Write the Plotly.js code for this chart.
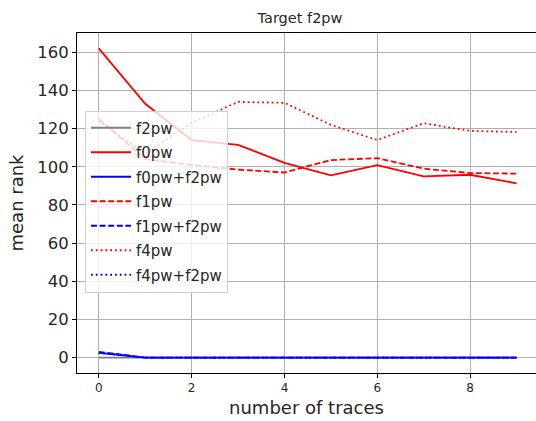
<!DOCTYPE html>
<html>
<head>
<meta charset="utf-8">
<script src="https://cdn.plot.ly/plotly-3.0.1.min.js"></script>
<style>html,body{margin:0;padding:0;background:#fff;}#chart{width:536px;height:421px;}</style>
</head>
<body>
<div id="chart"></div>
<script>
var traces_x = [0, 1, 2, 3, 4, 5, 6, 7, 8, 9];
var f2pw       = [0, 0, 0, 0, 0, 0, 0, 0, 0, 0];
var f0pw       = [162, 133, 114, 111.5, 102, 95.5, 100.8, 95, 95.8, 91.3];
var f0pw_f2pw  = [2.5, 0, 0, 0, 0, 0, 0, 0, 0, 0];
var f1pw       = [125, 104, 101, 98.5, 97, 103.5, 104.5, 99, 96.7, 96.4];
var f1pw_f2pw  = [3, 0, 0, 0, 0, 0, 0, 0, 0, 0];
var f4pw       = [124, 107, 123, 134, 133.5, 122, 114, 122.8, 118.8, 118.2];
var f4pw_f2pw  = [2.5, 0, 0, 0, 0, 0, 0, 0, 0, 0];
var xTicks = [0, 2, 4, 6, 8];
var yTicks = [0, 20, 40, 60, 80, 100, 120, 140, 160];

function tr(name, y, color, dash, g) {
  return {x: traces_x, y: y, name: name, type: 'scatter', mode: 'lines',
          legendgroup: g,
          line: {color: color, width: 1.8, dash: dash}};
}
var DASH = '6px,2.6px';
var DOT = '1.8px,3px';
var data = [
  tr('f2pw', f2pw, 'gray', 'solid', 'a'),
  tr('f0pw', f0pw, 'red', 'solid', 'b'),
  tr('f0pw+f2pw', f0pw_f2pw, 'blue', 'solid', 'c'),
  tr('f1pw', f1pw, 'red', DASH, 'd'),
  tr('f1pw+f2pw', f1pw_f2pw, 'blue', DASH, 'e'),
  tr('f4pw', f4pw, 'red', DOT, 'f'),
  tr('f4pw+f2pw', f4pw_f2pw, 'blue', DOT, 'g')
];

var layout = {
  width: 536, height: 421,
  margin: {l: 77, r: 0, t: 32.5, b: 47.5},
  paper_bgcolor: '#fff', plot_bgcolor: '#fff',
  font: {family: 'DejaVu Sans', color: '#262626'},
  title: {text: 'Target f2pw', font: {size: 14.5, color: '#262626'},
          x: 300/536, xanchor: 'center', xref: 'container', y: 1 - 17.5/421, yanchor: 'middle', yref: 'container'},
  showlegend: true,
  legend: {x: 0.0174, y: 0.772, xanchor: 'left', yanchor: 'top',
           bgcolor: 'rgba(255,255,255,0.8)', bordercolor: '#d0d0d0', borderwidth: 1,
           font: {size: 15, color: '#262626'}, tracegroupgap: 2, itemwidth: 40,
           traceorder: 'grouped'},
  xaxis: {range: [-0.47, 9.42], tickvals: xTicks, ticktext: xTicks.map(String),
          showgrid: true, gridcolor: '#b0b0b0', gridwidth: 1,
          zeroline: false, showline: true, linecolor: '#000', linewidth: 1, mirror: true,
          ticks: 'outside', ticklen: 4, tickcolor: '#000', tickfont: {size: 12},
          title: {text: 'number of traces', font: {size: 18}, standoff: 6}},
  yaxis: {range: [-8.1, 170.1], tickvals: yTicks, ticktext: yTicks.map(String),
          showgrid: true, gridcolor: '#b0b0b0', gridwidth: 1,
          zeroline: false, showline: true, linecolor: '#000', linewidth: 1,
          ticks: 'outside', ticklen: 4, tickcolor: '#000', tickfont: {size: 16.5},
          title: {text: 'mean rank', font: {size: 18}, standoff: 8}}
};
Plotly.newPlot('chart', data, layout, {displayModeBar: false, staticPlot: true});
</script>
</body>
</html>
